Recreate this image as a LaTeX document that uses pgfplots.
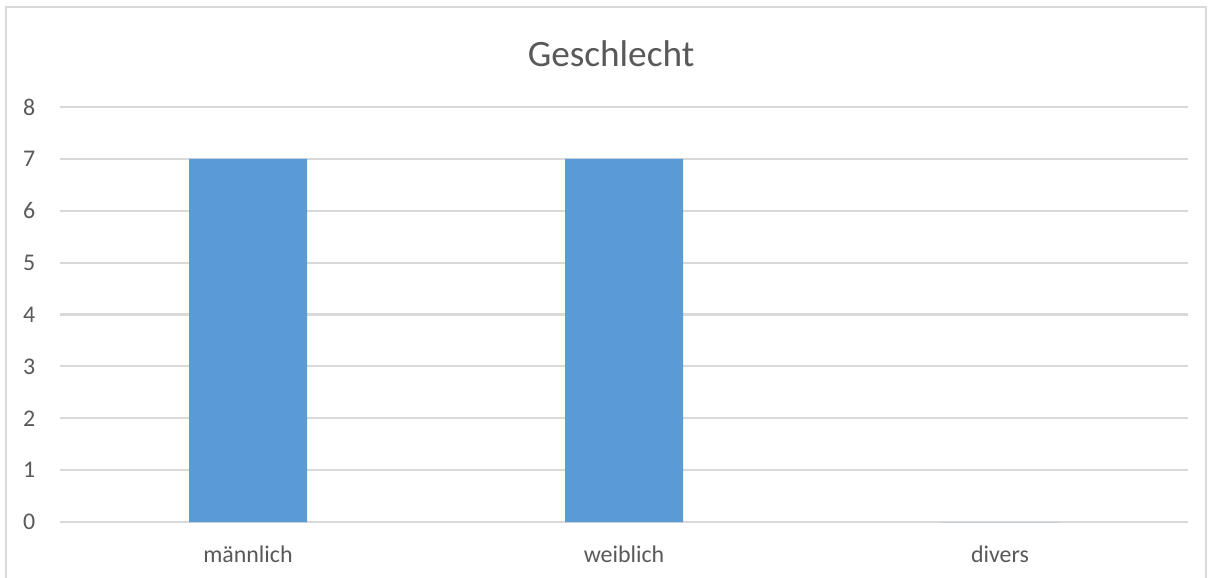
\documentclass[border=0pt]{standalone}
\usepackage{pgfplots}
\pgfplotsset{compat=1.18}
\usepackage{fontspec}
\setmainfont{Carlito}
\definecolor{bar}{HTML}{5B9BD5}
\definecolor{txt}{HTML}{595959}
\definecolor{grd}{HTML}{D9D9D9}
\begin{document}
\begin{tikzpicture}
\path[use as bounding box] (0,0) rectangle (12.13cm,5.77cm);
\fill[white] (0,0) rectangle (12.13cm,5.77cm);
\draw[grd, line width=0.6pt] (0.06cm,-0.2cm) -- (0.06cm,5.70cm) -- (12.06cm,5.70cm) -- (12.06cm,-0.2cm);
\node[txt, font=\fontsize{10.6}{12}\selectfont] at (6.11cm,5.23cm) {Geschlecht};
\begin{axis}[
  at={(0.60cm,0.55cm)}, anchor=south west,
  scale only axis, width=11.28cm, height=4.15cm,
  xmin=-0.5, xmax=2.5, ymin=0, ymax=8,
  xtick={0,1,2}, xticklabels={männlich,weiblich,divers},
  ytick={0,1,...,8},
  ymajorgrids, grid style={grd, line width=0.6pt},
  axis line style={draw=none}, major tick style={draw=none},
  ticklabel style={txt, font=\fontsize{6.8}{8}\selectfont},
  /pgf/number format/assume math mode=true,
  yticklabel style={xshift=-3.5pt},
  xticklabel style={yshift=1pt},
  ybar, bar width=1.18cm,
  clip=false,
]
\addplot[fill=bar, draw=none] coordinates {(0,7) (1,7) (2,0)};
\end{axis}
\end{tikzpicture}
\end{document}
